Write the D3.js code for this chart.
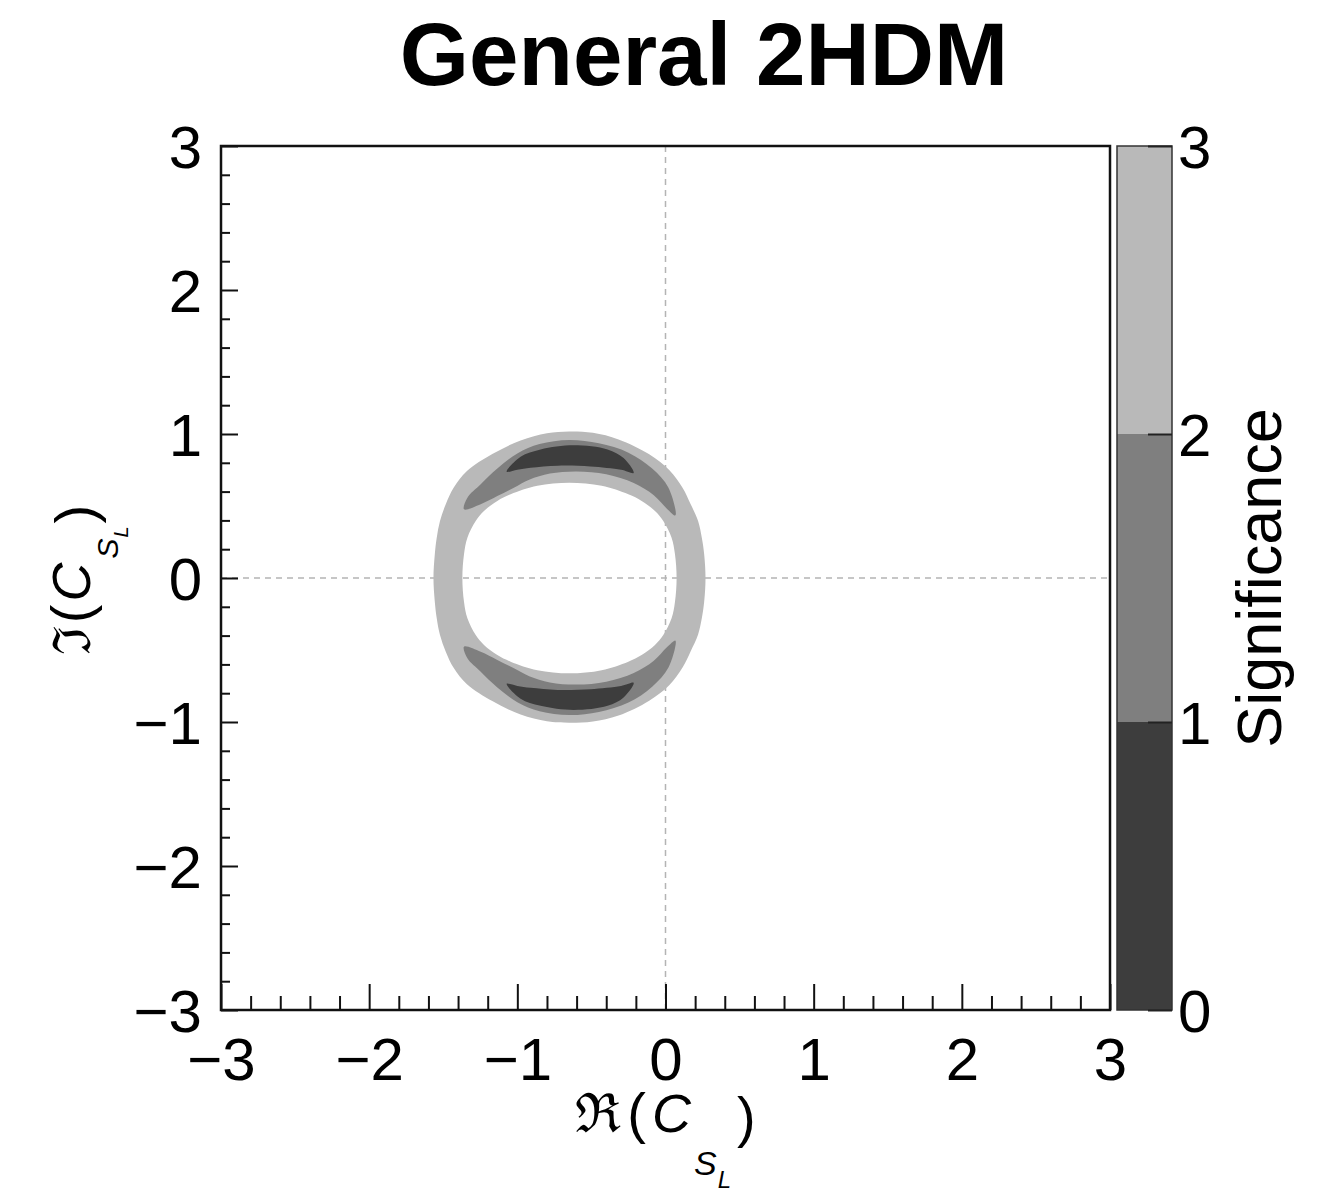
<!DOCTYPE html>
<html>
<head>
<meta charset="utf-8">
<script src="https://cdn.jsdelivr.net/npm/d3@7"></script>
<style>
  html, body { margin: 0; padding: 0; background: #ffffff; }
  svg { display: block; }
  text { font-family: "Liberation Sans", Arial, Helvetica, sans-serif; fill: #000; }
</style>
</head>
<body>
<svg id="chart" width="1321" height="1194"></svg>
<script>
// ---- axis ticks and colour levels ----
const xTickValues = [-3, -2, -1, 0, 1, 2, 3];
const yTickValues = [-3, -2, -1, 0, 1, 2, 3];
const sigLevels = [0, 1, 2, 3];
const sigColors = ["#3d3d3d", "#7f7f7f", "#b9b9b9"];

// ---- contour boundaries in (Re C_SL, Im C_SL) ----
// significance = 3, outer edge of the ring
const contour3Outer = [
  [0.27, 0.00], [0.261, 0.165], [0.245, 0.28], [0.22, 0.396], [0.17, 0.512],
  [0.115, 0.627], [0.025, 0.75], [-0.11, 0.859], [-0.317, 0.962], [-0.49, 1.008],
  [-0.65, 1.018], [-0.80, 1.005], [-0.978, 0.955], [-1.169, 0.861], [-1.34, 0.743],
  [-1.43, 0.627], [-1.483, 0.512], [-1.522, 0.396], [-1.544, 0.28], [-1.557, 0.165],
  [-1.566, 0.00],
  [-1.557, -0.165], [-1.544, -0.28], [-1.522, -0.396], [-1.483, -0.512], [-1.43, -0.624],
  [-1.34, -0.738], [-1.169, -0.855], [-0.978, -0.948], [-0.80, -0.995], [-0.65, -1.005],
  [-0.49, -0.996], [-0.317, -0.955], [-0.11, -0.852], [0.025, -0.745], [0.115, -0.622],
  [0.17, -0.508], [0.22, -0.392], [0.245, -0.28], [0.261, -0.165]
];
// significance = 3, inner edge of the ring
const contour3Inner = [
  [0.075, 0.00], [0.064, 0.165], [0.041, 0.28], [-0.015, 0.396], [-0.071, 0.465],
  [-0.161, 0.535], [-0.251, 0.581], [-0.431, 0.64], [-0.65, 0.662], [-0.865, 0.64],
  [-1.045, 0.581], [-1.135, 0.535], [-1.225, 0.465], [-1.281, 0.396], [-1.337, 0.28],
  [-1.36, 0.165], [-1.371, 0.00],
  [-1.36, -0.165], [-1.337, -0.28], [-1.281, -0.396], [-1.225, -0.465], [-1.135, -0.535],
  [-1.045, -0.581], [-0.865, -0.64], [-0.65, -0.662], [-0.431, -0.64], [-0.251, -0.581],
  [-0.161, -0.535], [-0.071, -0.465], [-0.015, -0.396], [0.041, -0.28], [0.064, -0.165]
];
// significance = 2 islands
const contour2Top = [
  [-1.36, 0.477], [-1.337, 0.558], [-1.247, 0.651], [-1.135, 0.76], [-1.0, 0.865],
  [-0.85, 0.93], [-0.65, 0.958], [-0.45, 0.935], [-0.25, 0.87], [-0.09, 0.76],
  [0.02, 0.627], [0.067, 0.435], [0.011, 0.48], [-0.079, 0.575], [-0.214, 0.66],
  [-0.40, 0.72], [-0.60, 0.74], [-0.78, 0.725], [-0.92, 0.682], [-1.023, 0.627],
  [-1.135, 0.569], [-1.247, 0.512]
];
const contour2Bottom = [
  [-1.36, -0.477], [-1.337, -0.558], [-1.247, -0.651], [-1.135, -0.76], [-1.0, -0.862],
  [-0.85, -0.925], [-0.65, -0.952], [-0.45, -0.93], [-0.25, -0.865], [-0.09, -0.755],
  [0.02, -0.622], [0.067, -0.435], [0.011, -0.48], [-0.079, -0.575], [-0.214, -0.66],
  [-0.40, -0.72], [-0.60, -0.74], [-0.78, -0.725], [-0.92, -0.682], [-1.023, -0.627],
  [-1.135, -0.569], [-1.247, -0.512]
];
// significance = 1 islands
const contour1Top = [
  [-1.072, 0.738], [-0.978, 0.842], [-0.843, 0.893], [-0.62, 0.922], [-0.391, 0.893],
  [-0.283, 0.833], [-0.215, 0.73], [-0.30, 0.752], [-0.506, 0.775], [-0.728, 0.78],
  [-0.91, 0.766], [-1.0, 0.752]
];
const contour1Bottom = [
  [-1.072, -0.735], [-0.978, -0.838], [-0.843, -0.888], [-0.62, -0.917], [-0.391, -0.888],
  [-0.283, -0.83], [-0.215, -0.728], [-0.30, -0.75], [-0.506, -0.772], [-0.728, -0.777],
  [-0.91, -0.763], [-1.0, -0.75]
];

// ---- layout ----
const svg = d3.select("#chart");
const frame = { left: 221, right: 1110, top: 146, bottom: 1010 };
const bar = { left: 1117, right: 1172 };

const x = d3.scaleLinear().domain([-3, 3]).range([frame.left, frame.right]);
const y = d3.scaleLinear().domain([-3, 3]).range([frame.bottom, frame.top]);
const zScale = d3.scaleLinear().domain([0, 3]).range([frame.bottom, frame.top]);

svg.append("rect").attr("width", 1321).attr("height", 1194).attr("fill", "#fff");

const minus = v => (v < 0 ? "\u2212" + Math.abs(v) : String(v));

// dashed reference lines through the origin
const grid = svg.append("g")
  .attr("stroke", "#b4b4b4").attr("stroke-width", 1.5).attr("stroke-dasharray", "6,5");
grid.append("line").attr("x1", x(0)).attr("x2", x(0)).attr("y1", y(-3)).attr("y2", y(3));
grid.append("line").attr("x1", x(-3)).attr("x2", x(3)).attr("y1", y(0)).attr("y2", y(0));

// filled contour bands
const contourLine = d3.line()
  .x(d => x(d[0])).y(d => y(d[1]))
  .curve(d3.curveCatmullRomClosed.alpha(0.5));

const bands = svg.append("g");
bands.append("path")
  .attr("d", contourLine(contour3Outer) + contourLine(contour3Inner))
  .attr("fill-rule", "evenodd")
  .attr("fill", sigColors[2]);
[contour2Top, contour2Bottom].forEach(c =>
  bands.append("path").attr("d", contourLine(c)).attr("fill", sigColors[1]));
[contour1Top, contour1Bottom].forEach(c =>
  bands.append("path").attr("d", contourLine(c)).attr("fill", sigColors[0]));

// ---- axes ----
const minorTicks = d3.range(-30, 31, 2).map(v => v / 10).filter(v => Math.abs(v - Math.round(v)) > 1e-6);

const xAxisG = svg.append("g").attr("transform", `translate(0,${frame.bottom})`);
xAxisG.append("g").call(d3.axisBottom(x).tickValues(minorTicks).tickSize(-14).tickFormat(""));
xAxisG.append("g").call(d3.axisBottom(x).tickValues(xTickValues).tickSize(-26).tickPadding(27).tickFormat(minus));

const yAxisG = svg.append("g").attr("transform", `translate(${frame.left},0)`);
yAxisG.append("g").call(d3.axisLeft(y).tickValues(minorTicks).tickSize(-9).tickFormat(""));
yAxisG.append("g").call(d3.axisLeft(y).tickValues(yTickValues).tickSize(-17).tickPadding(19).tickFormat(minus));

svg.selectAll(".domain").remove();
svg.selectAll(".tick line").attr("stroke", "#111").attr("stroke-width", 2);
svg.selectAll(".tick text")
  .attr("font-family", "'Liberation Sans', Arial, Helvetica, sans-serif")
  .attr("font-size", 60).attr("fill", "#000");
yAxisG.selectAll(".tick text").attr("dy", "0.35em");

// plot frame
svg.append("rect")
  .attr("x", frame.left).attr("y", frame.top)
  .attr("width", frame.right - frame.left).attr("height", frame.bottom - frame.top)
  .attr("fill", "none").attr("stroke", "#111").attr("stroke-width", 2.5);

// ---- colour bar ----
const barG = svg.append("g");
barG.selectAll("rect.band")
  .data(d3.range(sigColors.length))
  .join("rect")
  .attr("class", "band")
  .attr("x", bar.left).attr("width", bar.right - bar.left)
  .attr("y", i => zScale(sigLevels[i + 1]))
  .attr("height", i => zScale(sigLevels[i]) - zScale(sigLevels[i + 1]))
  .attr("fill", i => sigColors[i]);
barG.append("rect")
  .attr("x", bar.left).attr("y", frame.top)
  .attr("width", bar.right - bar.left).attr("height", frame.bottom - frame.top)
  .attr("fill", "none").attr("stroke", "#333").attr("stroke-width", 1.5);

const zAxisG = svg.append("g").attr("transform", `translate(${bar.right},0)`)
  .call(d3.axisRight(zScale).tickValues(sigLevels).tickSize(-24).tickPadding(6).tickFormat(d3.format("d")));
zAxisG.select(".domain").remove();
zAxisG.selectAll(".tick line").attr("stroke", "#222").attr("stroke-width", 2);
zAxisG.selectAll(".tick text")
  .attr("font-family", "'Liberation Sans', Arial, Helvetica, sans-serif")
  .attr("font-size", 60).attr("fill", "#000").attr("dy", "0.35em");

svg.append("text")
  .attr("transform", `translate(1281,${(frame.top + frame.bottom) / 2}) rotate(-90)`)
  .attr("text-anchor", "middle")
  .attr("font-size", 63)
  .text("Significance");

// ---- title ----
svg.append("text")
  .attr("x", 704).attr("y", 85)
  .attr("text-anchor", "middle")
  .attr("font-size", 89).attr("font-weight", "bold")
  .text("General 2HDM");

// ---- axis titles: Re/Im(C_{S_L}) ----
function axisTitle(g, symbol, o) {
  const t = g.append("text").attr("text-anchor", "middle").attr("font-size", 54);
  t.append("tspan").attr("font-family", "'DejaVu Serif', serif").attr("font-size", o.sym).text(symbol);
  t.append("tspan").attr("dx", o.gap).attr("font-size", 56).text("(");
  t.append("tspan").attr("dx", o.gap).attr("font-style", "italic").text("C");
  t.append("tspan").attr("dx", o.subGap).attr("dy", o.sDy).attr("font-size", o.sSize).attr("font-style", "italic").text("S");
  t.append("tspan").attr("dx", 1).attr("dy", o.lDy).attr("font-size", o.lSize).attr("font-style", "italic").text("L");
  t.append("tspan").attr("dx", o.gap).attr("dy", -(o.sDy + o.lDy) + 4).attr("font-size", 56).text(")");
  return t;
}

const xTitle = svg.append("g").attr("transform", `translate(${(frame.left + frame.right) / 2},1132)`);
axisTitle(xTitle, "\u211C", { sym: 54, gap: 6, subGap: 3, sDy: 43, sSize: 34, lDy: 13, lSize: 24 });

const yTitle = svg.append("g").attr("transform", `translate(90,${(frame.top + frame.bottom) / 2 + 2}) rotate(-90)`);
axisTitle(yTitle, "\u2111", { sym: 52, gap: 3, subGap: 4, sDy: 28, sSize: 30, lDy: 10, lSize: 20 });
</script>
</body>
</html>
